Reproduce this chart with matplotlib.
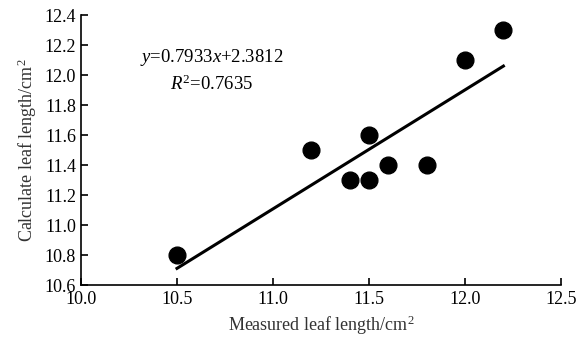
import matplotlib
matplotlib.use('Agg')
import matplotlib.pyplot as plt
import numpy as np

plt.rcParams['font.family'] = ['Liberation Serif', 'DejaVu Serif']
plt.rcParams['mathtext.fontset'] = 'custom'
plt.rcParams['mathtext.rm'] = 'Liberation Serif'
plt.rcParams['mathtext.it'] = 'Liberation Serif:italic'

measured = [10.5, 11.2, 11.4, 11.5, 11.5, 11.6, 11.8, 12.0, 12.2]
calculated = [10.8, 11.5, 11.3, 11.3, 11.6, 11.4, 11.4, 12.1, 12.3]
slope = 0.7933
intercept = 2.3812
r2 = 0.7635

fig = plt.figure(figsize=(5.85, 3.42), dpi=100)
ax = fig.add_axes([81 / 585, 57 / 342, 480 / 585, 270 / 342])

ax.scatter(measured, calculated, s=145, color='black', zorder=3)
line_x = np.array([min(measured), max(measured)])
ax.plot(line_x, slope * line_x + intercept, color='black', linewidth=2.2)

ax.text(10.68, 12.12, f'$y$={slope}$x$+{intercept}', ha='center', va='center',
        fontsize=13.5)
ax.text(10.68, 11.94, f'$R^2$={r2}', ha='center', va='center', fontsize=13.5)

ax.set_xlim(10.0, 12.5)
ax.set_ylim(10.6, 12.4)
ax.set_xticks(np.arange(10.0, 12.51, 0.5))
ax.set_yticks(np.arange(10.6, 12.41, 0.2))
ax.xaxis.set_major_formatter(matplotlib.ticker.FormatStrFormatter('%.1f'))
ax.yaxis.set_major_formatter(matplotlib.ticker.FormatStrFormatter('%.1f'))
ax.tick_params(direction='in', length=5, width=1.2, labelsize=13, colors='black')
ax.tick_params(axis='x', pad=4)
for side in ['top', 'right']:
    ax.spines[side].set_visible(False)
for side in ['left', 'bottom']:
    ax.spines[side].set_linewidth(1.2)

ax.set_xlabel('Measured leaf length/cm$^2$', fontsize=13, color='#333333')
ax.set_ylabel('Calculate leaf length/cm$^2$', fontsize=13, color='#333333')

fig.savefig('out.png', dpi=100)
